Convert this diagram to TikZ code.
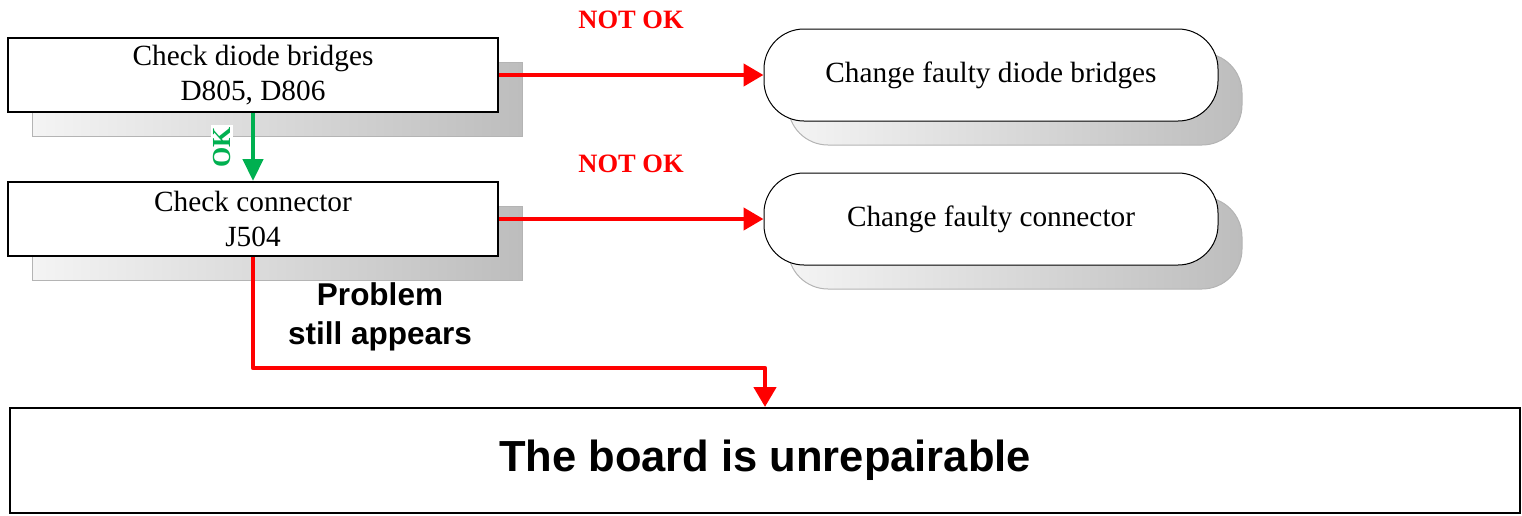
\documentclass[tikz,border=0pt]{standalone}
\usepackage{fontspec}
\setmainfont{Liberation Serif}
\setsansfont{Liberation Sans}
\usetikzlibrary{arrows.meta}
\definecolor{punainen}{HTML}{FF0000}
\definecolor{vihrea}{HTML}{00B050}
\definecolor{varjo1}{HTML}{F4F4F4}
\definecolor{varjo2}{HTML}{BDBDBD}
\definecolor{varjoreuna}{HTML}{B4B4B4}

\tikzset{
  laatikko/.style={draw=black, line width=2pt, fill=white, align=center,
    minimum width=490, minimum height=74, inner sep=0pt,
    font=\fontsize{29.3}{35}\selectfont},
  pyorea/.style={draw=black, line width=1pt, fill=white, rounded corners=40,
    minimum width=454, minimum height=92, inner sep=0pt,
    font=\fontsize{29.3}{35}\selectfont},
  varjo/.style={left color=varjo1, right color=varjo2, draw=varjoreuna, line width=1pt},
  nuolip/.style={draw=punainen, line width=4.5pt, line join=round,
    -{Triangle[width=22pt,length=20pt]}},
  nuoliv/.style={draw=vihrea, line width=4.5pt,
    -{Triangle[width=20pt,length=22pt]}},
  eiok/.style={text=punainen, font=\fontsize{26.5}{30}\selectfont\bfseries}
}

\begin{document}
\begin{tikzpicture}[x=1pt, y=-1pt]
				\useasboundingbox (0,0) rectangle (1522,515);
				% varjot
				\shade[varjo] (32,62) rectangle (522,136);
				\shade[varjo] (32,206) rectangle (522,280);
				\shade[varjo, rounded corners=40] (788,53) rectangle (1242,145);
				\shade[varjo, rounded corners=40] (788,197) rectangle (1242,289);
				% laatikot
				\node[laatikko] (diodit) at (253,75) {Check diode bridges\\D805, D806};
				\node[laatikko] (liitin) at (253,219) {Check connector\\J504};
				\node[pyorea] (vaihto1) at (991,75) {Change faulty diode bridges};
				\node[pyorea] (vaihto2) at (991,219) {Change faulty connector};
				\node[draw=black, line width=2pt, minimum width=1510, minimum height=105,
				  inner sep=0pt, font=\fontsize{43.5}{48}\selectfont\sffamily\bfseries]
				  (lauta) at (765,460.5) {The board is unrepairable};
				\coordinate (mutka) at (765,368);
				% nuolet
				\draw[nuolip] (diodit.east) -- (vaihto1.west);
				\draw[nuolip] (liitin.east) -- (vaihto2.west);
				\draw[nuolip] (liitin.south) |- (mutka) -- (lauta.north);
				\draw[nuoliv] (diodit.south) -- (liitin.north);
				% tekstit
				\node[eiok] (eiok1) at (631,20) {NOT OK};
				\node[eiok] (eiok2) at (631,164) {NOT OK};
				\node[rotate=90, fill=white, inner sep=2pt, text=vihrea,
				  font=\fontsize{26}{30}\selectfont\bfseries] (ok) at (222,147) {OK};
				\node[align=center, font=\fontsize{31.5}{39}\selectfont\sffamily\bfseries]
				  (ongelma) at (380,317) {Problem\\still appears};
			\end{tikzpicture}
\end{document}
